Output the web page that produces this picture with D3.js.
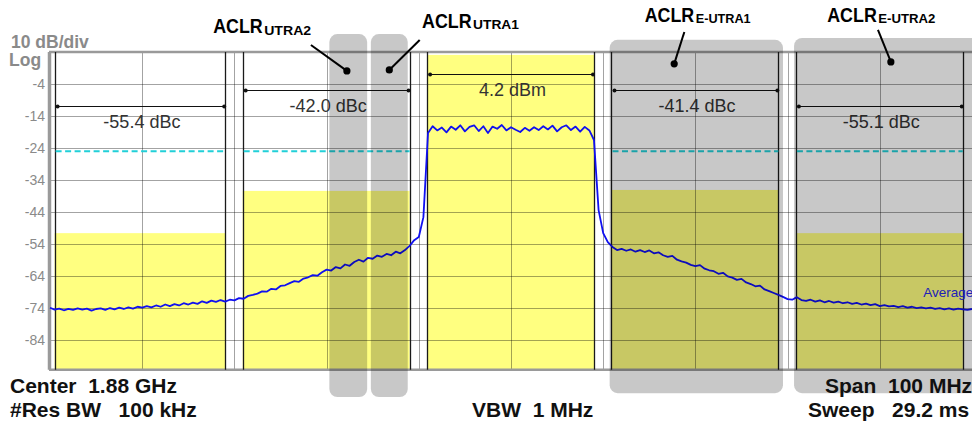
<!DOCTYPE html>
<html>
<head>
<meta charset="utf-8">
<script src="https://cdn.jsdelivr.net/npm/d3@7"></script>
<style>
  html, body { margin: 0; padding: 0; background: #fff; }
  svg { display: block; font-family: "Liberation Sans", Arial, sans-serif; }
  .pre { white-space: pre; }
</style>
</head>
<body>
<svg id="chart" width="972" height="427"></svg>
<script>
// analyzer screen: 1.88 GHz center, 100 MHz span, 10 dB/div
const startFreq = 1830, stopFreq = 1930, freqStep = 0.5;   // MHz
const refLevel = 6, bottomLevel = -93.3;                   // dBm
const levelTicks = [-4, -14, -24, -34, -44, -54, -64, -74, -84];
const freqGrid = [1830, 1840, 1850, 1860, 1870, 1880, 1890, 1900, 1910, 1920, 1930];

// averaged trace, one value per 0.5 MHz from 1830 MHz
const traceLevels = [
  -73.9, -74.5, -74.2, -74.7, -74.3, -74.6, -74.1, -74.5, -74.2, -74.8,
  -74.3, -74.1, -74.6, -74.0, -74.4, -73.9, -74.3, -73.8, -74.2, -73.6,
  -73.9, -73.4, -73.8, -73.2, -73.6, -72.9, -73.4, -72.8, -73.2, -72.5,
  -72.9, -72.3, -72.7, -71.9, -72.4, -71.7, -72.1, -71.5, -72.0, -71.4,
  -71.6, -70.9, -71.1, -70.2, -69.9, -69.5, -68.8, -68.9, -68.0, -68.2,
  -67.1, -66.9, -66.2, -65.6, -65.8, -64.8, -64.4, -63.7, -63.9, -62.8,
  -62.0, -62.3, -61.2, -61.6, -60.4, -60.8, -59.6, -58.9, -59.5, -58.3,
  -58.6, -57.6, -58.0, -57.1, -57.5, -56.4, -56.9, -55.9, -54.6, -52.8,
  -51.8, -45.6, -19.3, -17.2, -18.5, -17.6, -19.1, -17.3, -18.3, -16.9,
  -18.8, -17.4, -16.9, -18.7, -17.2, -19.3, -17.3, -18.0, -16.8, -18.5,
  -17.5, -18.3, -19.0, -17.7, -18.6, -17.5, -18.4, -17.2, -18.2, -17.0,
  -18.8, -17.5, -16.9, -18.4, -17.3, -18.9, -17.4, -18.5, -21.5, -43.4,
  -50.6, -53.4, -54.9, -55.9, -55.5, -56.1, -55.7, -56.4, -55.9, -56.5,
  -56.0, -56.9, -56.6, -57.5, -58.0, -57.7, -58.9, -59.4, -59.8, -60.5,
  -60.9, -60.6, -61.7, -62.2, -62.5, -63.3, -63.0, -64.1, -64.5, -65.2,
  -64.9, -66.0, -66.5, -67.2, -67.0, -68.2, -68.7, -69.3, -69.9, -70.5,
  -71.2, -71.4, -70.6, -71.5, -71.8, -71.4, -72.0, -71.6, -72.2, -71.8,
  -72.3, -72.0, -72.5, -72.2, -72.7, -72.4, -72.9, -72.6, -73.1, -72.8,
  -73.4, -73.1, -73.5, -73.3, -73.7, -73.4, -73.9, -73.6, -74.0, -73.8,
  -74.1, -73.9, -74.3, -74.0, -74.4, -74.1, -74.5, -74.2, -74.4, -74.6,
  -74.3
];

// measurement channels (E-UTRA2, E-UTRA1, carrier, E-UTRA1, E-UTRA2)
const channelStart = [1830.5, 1850.9, 1870.9, 1890.9, 1910.9];
const channelStop = [1849, 1869, 1889, 1909, 1929];
const channelFill = [-50.6, -37.4, 5.1, -37.1, -50.6];
const channelResult = ["-55.4 dBc", "-42.0 dBc", "4.2 dBm", "-41.4 dBc", "-55.1 dBc"];
const resultBarLevel = [-10.9, -5.9, -1.0, -5.9, -10.9];
const limitLevel = -25;

// callouts drawn on top of the screenshot
const calloutNames = ["UTRA2", "UTRA1", "E-UTRA1", "E-UTRA2"];
const calloutBoxStart = [1860.3, 1864.8, 1890.7, 1910.7];
const calloutBoxStop = [1864.4, 1868.8, 1909.5, 1933];
const calloutBoxTop = [11.6, 11.6, 9.8, 10.4];
const calloutBoxBottom = [-101.8, -101.8, -100.6, -100.6];
const calloutLabelFreq = [1847.7, 1870.35, 1894.5, 1914.3];
const calloutLabelLevel = [11.9, 13.5, 15.4, 15.4];
const calloutSubWidth = [48, 47, 56, 58];
const calloutLineFreq = [1858.3, 1870.1, 1898.8, 1919.8];
const calloutLineLevel = [8.2, 9.75, 12.25, 12.9];
const calloutDotFreq = [1862.2, 1866.8, 1897.7, 1921.2];
const calloutDotLevel = [0.1, 0.4, 2.3, 2.9];

const svg = d3.select("#chart");
const x = d3.scaleLinear().domain([startFreq, stopFreq]).range([50, 972]);
const y = d3.scaleLinear().domain([refLevel, bottomLevel]).range([52, 369.8]);
const crisp = v => Math.round(v) + 0.5;

svg.append("rect").attr("width", 972).attr("height", 427).attr("fill", "#fff");

let channels = channelStart.map((s, i) => ({
    start: s, stop: channelStop[i], fill: channelFill[i],
    result: channelResult[i], bar: resultBarLevel[i], idx: i
}));

// yellow channel areas
svg.append("g").selectAll("rect").data(channels).join("rect")
    .attr("x", d => x(d.start))
    .attr("width", d => x(d.stop) - x(d.start))
    .attr("y", d => y(d.fill))
    .attr("height", d => y(bottomLevel) - y(d.fill))
    .attr("fill", "#ffff80");

// graticule
let grid = svg.append("g").attr("stroke", "#000").attr("stroke-opacity", 0.36).attr("stroke-width", 1);
grid.selectAll("line.v").data(freqGrid).join("line").attr("class", "v")
    .attr("x1", d => crisp(x(d))).attr("x2", d => crisp(x(d)))
    .attr("y1", y(refLevel)).attr("y2", y(bottomLevel));
grid.selectAll("line.h").data(levelTicks).join("line").attr("class", "h")
    .attr("x1", x(startFreq)).attr("x2", x(stopFreq))
    .attr("y1", d => crisp(y(d))).attr("y2", d => crisp(y(d)));

// frame
let frame = svg.append("g").attr("stroke", "#9a9a9a");
frame.append("line").attr("x1", x(startFreq) - 1).attr("x2", x(stopFreq))
    .attr("y1", y(refLevel)).attr("y2", y(refLevel)).attr("stroke-width", 2.5);
frame.append("line").attr("x1", x(startFreq) - 1).attr("x2", x(stopFreq))
    .attr("y1", y(bottomLevel)).attr("y2", y(bottomLevel)).attr("stroke-width", 2.5);
frame.append("line").attr("x1", x(startFreq) - 0.5).attr("x2", x(startFreq) - 0.5)
    .attr("y1", y(refLevel)).attr("y2", y(bottomLevel)).attr("stroke-width", 3.5);

// channel edges
let edges = channels.flatMap(d => [d.start, d.stop]);
svg.append("g").selectAll("line").data(edges).join("line")
    .attr("x1", d => crisp(x(d))).attr("x2", d => crisp(x(d)))
    .attr("y1", y(refLevel)).attr("y2", y(bottomLevel))
    .attr("stroke", "#1a1a1a").attr("stroke-width", 1.3);

// limit line, only in the adjacent channels
svg.append("g").selectAll("line").data(channels.filter(d => d.idx !== 2)).join("line")
    .attr("x1", d => x(d.start) + 1).attr("x2", d => x(d.stop))
    .attr("y1", y(limitLevel)).attr("y2", y(limitLevel))
    .attr("stroke", "#22d0d8").attr("stroke-width", 2)
    .attr("stroke-dasharray", "6,3.5");

// integration bars and results
let bars = svg.append("g");
bars.selectAll("line").data(channels).join("line")
    .attr("x1", d => x(d.start) + 3).attr("x2", d => x(d.stop) - 1)
    .attr("y1", d => crisp(y(d.bar))).attr("y2", d => crisp(y(d.bar)))
    .attr("stroke", "#111").attr("stroke-width", 1.2);
bars.selectAll("circle").data(channels.flatMap(d => [
        {f: d.start, l: d.bar, dx: 3}, {f: d.stop, l: d.bar, dx: -1}])).join("circle")
    .attr("cx", d => x(d.f) + d.dx).attr("cy", d => crisp(y(d.l)))
    .attr("r", 2).attr("fill", "#111");
bars.selectAll("text").data(channels).join("text")
    .attr("x", d => (x(d.start) + x(d.stop)) / 2 + 2)
    .attr("y", d => y(d.bar) + 22)
    .attr("text-anchor", "middle")
    .attr("font-size", 18).attr("fill", "#333")
    .text(d => d.result);

// trace
let line = d3.line()
    .x((d, i) => x(startFreq + i * freqStep))
    .y(d => y(d));
svg.append("path").datum(traceLevels)
    .attr("d", line)
    .attr("fill", "none").attr("stroke", "#1010f0")
    .attr("stroke-width", 1.8).attr("stroke-linejoin", "round");

svg.append("text").attr("x", x(1924.7)).attr("y", y(-70.4))
    .attr("font-size", 13.5).attr("fill", "#2a2ae8").text("Average");

// level labels
svg.append("g").selectAll("text").data(levelTicks).join("text")
    .attr("x", 45).attr("y", d => y(d) + 5)
    .attr("text-anchor", "end").attr("font-size", 14).attr("fill", "#8a8a8a")
    .text(d => d);
svg.append("text").attr("x", 11).attr("y", 48)
    .attr("font-size", 17.5).attr("font-weight", "bold").attr("fill", "#8a8a8a").text("10 dB/div");
svg.append("text").attr("x", 9).attr("y", 66)
    .attr("font-size", 17.5).attr("font-weight", "bold").attr("fill", "#8a8a8a").text("Log");

// gray callout boxes
let callouts = calloutNames.map((n, i) => ({
    name: n, start: calloutBoxStart[i], stop: calloutBoxStop[i],
    top: calloutBoxTop[i], bottom: calloutBoxBottom[i],
    lf: calloutLabelFreq[i], ll: calloutLabelLevel[i], sw: calloutSubWidth[i],
    f0: calloutLineFreq[i], l0: calloutLineLevel[i],
    f1: calloutDotFreq[i], l1: calloutDotLevel[i]
}));
svg.append("g").selectAll("rect").data(callouts).join("rect")
    .attr("x", d => x(d.start)).attr("width", d => x(d.stop) - x(d.start))
    .attr("y", d => y(d.top)).attr("height", d => y(d.bottom) - y(d.top))
    .attr("rx", 8).attr("fill", "#000").attr("fill-opacity", 0.216);

let notes = svg.append("g");
notes.selectAll("line").data(callouts).join("line")
    .attr("x1", d => x(d.f0)).attr("y1", d => y(d.l0))
    .attr("x2", d => x(d.f1)).attr("y2", d => y(d.l1))
    .attr("stroke", "#000").attr("stroke-width", 2);
notes.selectAll("circle").data(callouts).join("circle")
    .attr("cx", d => x(d.f1)).attr("cy", d => y(d.l1))
    .attr("r", 3.6).attr("fill", "#000");
// "ACLR" is a condensed bold face in the original, so squeeze it horizontally
notes.selectAll("g.main").data(callouts).join("g").attr("class", "main")
    .attr("transform", d => `translate(${x(d.lf)},${y(d.ll)}) scale(0.85,1)`)
    .append("text")
    .attr("font-size", 21).attr("font-weight", "bold")
    .text("ACLR");
notes.selectAll("text.sub").data(callouts).join("text").attr("class", "sub")
    .attr("x", d => x(d.lf) + 51).attr("y", d => y(d.ll) + 1.5)
    .attr("font-size", 13).attr("font-weight", "bold")
    .attr("textLength", d => d.sw - 1).attr("lengthAdjust", "spacingAndGlyphs")
    .text(d => d.name);

// settings footer
const footer = [
    {t: "Center  1.88 GHz", x: 10, y: 393},
    {t: "#Res BW   100 kHz", x: 10, y: 417},
    {t: "VBW  1 MHz", x: 472, y: 417},
    {t: "Span  100 MHz", x: 825, y: 393},
    {t: "Sweep   29.2 ms", x: 808, y: 417}
];
svg.append("g").selectAll("text").data(footer).join("text")
    .attr("class", "pre")
    .attr("x", d => d.x).attr("y", d => d.y)
    .attr("font-size", 21).attr("font-weight", "bold").attr("fill", "#111")
    .text(d => d.t);
</script>
</body>
</html>
